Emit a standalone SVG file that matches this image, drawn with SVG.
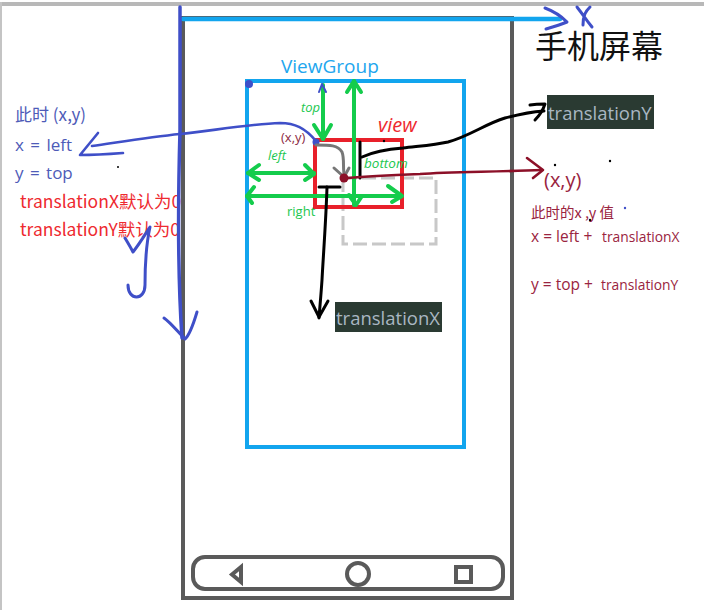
<svg xmlns="http://www.w3.org/2000/svg" width="704" height="610" viewBox="0 0 704 610">
<style>
.t{font-family:"Noto Sans CJK SC","Noto Sans",sans-serif}
.s{font-family:"Open Sans","Noto Sans CJK SC",sans-serif}
.i{font-family:"Open Sans",sans-serif;font-style:italic;fill:#1cc74f}
.b{fill:none;stroke-linecap:round;stroke-linejoin:round}
.ink{stroke:#3f4fc8}
.gr{stroke:#14cc4c;stroke-width:4}
.bk{stroke:#000;stroke-width:3}
.dr{stroke:#8c1028;stroke-width:2.6}
.bl{fill:#4e5bb8}
.rd{fill:#ee2a30}
.mr{fill:#9a2440}
.d{fill:#000}
</style>
<rect width="704" height="610" fill="#fff"/>
<rect x="0" y="2" width="704" height="4" fill="#b8b8b8"/>
<rect x="0" y="2" width="2" height="608" fill="#c4c4c4"/>
<g id="phone">
<rect x="183" y="18" width="329" height="580" fill="#fff" stroke="#5a5a5a" stroke-width="4"/>
<rect x="193" y="557" width="310" height="32" rx="12" fill="none" stroke="#5a5a5a" stroke-width="4"/>
<path d="M241 567V582L232 574.500Z" fill="none" stroke="#5a5a5a" stroke-width="4"/>
<circle cx="358" cy="574" r="11" fill="none" stroke="#5a5a5a" stroke-width="4"/>
<rect x="456" y="567" width="15" height="15" fill="none" stroke="#5a5a5a" stroke-width="4"/>
</g>
<g id="viewgroup">
<rect x="247" y="81" width="217" height="366" fill="none" stroke="#12a5ee" stroke-width="4"/>
<circle cx="249" cy="84" r="4" fill="#3f4fc8"/>
<text x="281" y="73" font-size="19" fill="#22a6ee" class="s">ViewGroup</text>
</g>
<g id="moved-view">
<rect x="343" y="178" width="93" height="66" fill="none" stroke="#c8c8c8" stroke-width="3" stroke-dasharray="14 5"/>
</g>
<g id="view">
<rect x="315" y="140" width="87" height="67" fill="none" stroke="#e8202a" stroke-width="4"/>
<text x="378" y="132" font-size="20" fill="#ee2a30" font-style="italic" class="s">view</text>
</g>
<g id="labels">
<text x="281" y="142" font-size="13" fill="#8c2a44" class="s">(x,y)</text>
<text x="301" y="112" font-size="13" class="i">top</text>
<text x="268" y="160" font-size="13" class="i">left</text>
<text x="364" y="168" font-size="13.500" class="i">bottom</text>
<text x="287" y="216" font-size="13" fill="#1cc74f" class="s">right</text>
<rect x="547" y="95" width="107" height="34" fill="#2a3a32"/>
<text x="548" y="120" font-size="18.500" fill="#a9b7c2" class="s">translationY</text>
<rect x="335" y="302" width="107" height="30" fill="#2a3a32"/>
<text x="336" y="325" font-size="18.500" fill="#a9b7c2" class="s">translationX</text>
<text x="535" y="58" font-size="32" fill="#111" class="t">手机屏幕</text>
<text x="15" y="121" font-size="17" class="bl t">此时 (x,y)</text>
<text x="15" y="151" font-size="17" class="bl s" word-spacing="2">x = left</text>
<text x="15" y="179" font-size="17" class="bl s" word-spacing="2">y = top</text>
<text x="20" y="208" font-size="17.500" class="rd t">translationX默认为0</text>
<text x="20" y="236" font-size="17.500" class="rd t">translationY默认为0</text>
<text x="544" y="187" font-size="20" class="mr s">(x,y)</text>
<text x="531" y="218" font-size="14.500" class="mr t">此时的x ,y 值</text>
<text x="531" y="242" font-size="15.500" class="mr s">x = left +</text>
<text x="602" y="242" font-size="13.800" class="mr s">translationX</text>
<text x="531" y="290" font-size="15.500" class="mr s">y = top +</text>
<text x="601" y="290" font-size="13.800" class="mr s">translationY</text>
</g>
<g id="connectors">
<path class="b" stroke="#12a5ee" stroke-width="4.500" d="M183 19H560"/>
<path class="b ink" stroke-width="3" d="M545 8C553 11 560 15 567 22C560 25 553 27 546 29"/>
<path class="b ink" stroke-width="3" d="M577 7C581 12 585 18 592 27M590 7C586 11 583 15 583 25"/>
<path class="b ink" stroke-width="3.500" d="M180 7V130C178 200 178 280 182 338"/>
<path class="b ink" stroke-width="3" d="M164 318C170 322 178 332 185 339C190 335 194 322 197 312"/>
<path class="b ink" stroke-width="2.600" d="M92 146C120 142 150 137 180 134C210 131 250 124 280 123C295 123 305 128 316 141"/>
<path class="b ink" stroke-width="2.600" d="M98 133L80 155C95 155 110 154 123 153"/>
<path class="b ink" stroke-width="3" d="M125 238C128 243 131 248 133 252C140 243 146 233 150 227C146 245 145 265 145 285C145 301 128 301 128 285"/>
<circle cx="316" cy="142" r="3.500" fill="#3f4fc8"/>
<path class="b" stroke="#777" stroke-width="3" d="M316 145C330 145 338 145 342 152C345 160 342 170 345 178"/>
<path class="b" stroke="#777" stroke-width="3" d="M334 168L344 177L349 168"/>
<path class="b gr" d="M323 85V139"/>
<path class="b gr" d="M314 125L323 139L331 125"/>
<path class="b" stroke="#3f4fc8" stroke-width="2" d="M319 92L322 84L326 92"/>
<path class="b gr" d="M354 81V205"/>
<path class="b gr" d="M347 92L354 81L361 92"/>
<path class="b gr" d="M349 195L356 205L362 196"/>
<path class="b gr" d="M248 173H314"/>
<path class="b gr" d="M259 165L248 173L259 180"/>
<path class="b gr" d="M305 165L314 174L305 180"/>
<path class="b gr" d="M247 196H401"/>
<path class="b gr" d="M254 187L247 196L252 203"/>
<path class="b gr" d="M388 186L402 196L392 202"/>
<path class="b bk" d="M319 187H340"/>
<path class="b bk" d="M327 187C326 220 323 260 322 280C321 295 320 305 319 318"/>
<path class="b bk" d="M311 301L319 317L328 301"/>
<path class="b bk" d="M360 142V178"/>
<path class="b bk" d="M362 157C375 151 390 149 403 148C420 146 435 145 448 142C470 136 485 124 505 118C520 114 530 112 544 111"/>
<path class="b bk" d="M530 105C536 104 541 104 545 104C543 110 540 115 535 120"/>
<circle cx="344" cy="178" r="4.500" fill="#8c1028"/>
<path class="b dr" d="M348 178C370 176 395 175 420 174C450 172 490 172 542 170"/>
<path class="b dr" d="M527 158L543 170L533 178"/>
</g>
<g id="specks">
<circle cx="118" cy="167" r="1" class="d"/>
<circle cx="555" cy="165" r="1.200" class="d"/>
<circle cx="610" cy="161" r="1.200" class="d"/>
<circle cx="625" cy="208" r="1.200" fill="#3f4fc8"/>
<circle cx="590" cy="220" r="1.200" class="d"/>
<circle cx="384" cy="141" r="1.200" class="d"/>
</g>
</svg>
